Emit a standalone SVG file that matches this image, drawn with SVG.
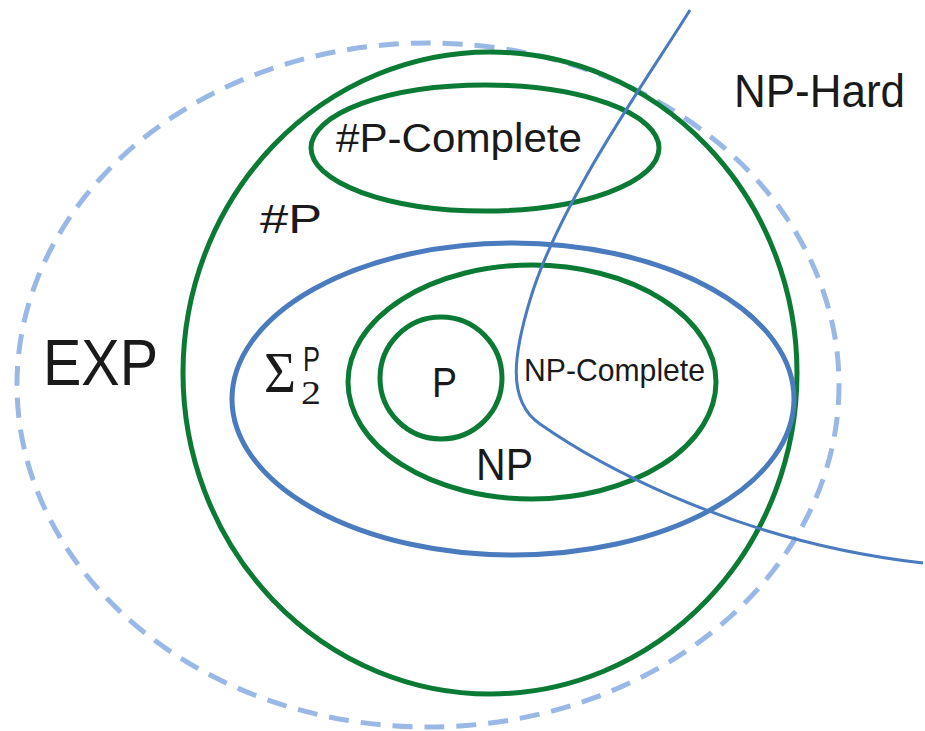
<svg xmlns="http://www.w3.org/2000/svg" width="925" height="731" viewBox="0 0 925 731">
<style>
.green{fill:none;stroke:#0b7a35;stroke-width:5}
.blue{fill:none;stroke:#4a7bbf;stroke-width:5}
.dash{fill:none;stroke:#9ab8e6;stroke-width:5;stroke-dasharray:20 12}
.curve{fill:none;stroke:#4a7bbf;stroke-width:3}
.lbl{font-family:"Liberation Sans","DejaVu Sans",sans-serif;fill:#1a1a1a}
.ser{font-family:"Liberation Serif","DejaVu Serif",serif;fill:#1a1a1a}
</style>
<rect width="925" height="731" fill="#ffffff"/>
<g id="exp">
<ellipse class="dash" cx="428" cy="385" rx="411" ry="342"/>
<text class="lbl" x="43" y="385" font-size="64" textLength="115" lengthAdjust="spacingAndGlyphs">EXP</text>
</g>
<g id="sharpP">
<ellipse class="green" cx="490" cy="373" rx="307" ry="321"/>
<text class="lbl" x="260" y="233" font-size="40" textLength="62" lengthAdjust="spacingAndGlyphs">#P</text>
</g>
<g id="sharpP-complete">
<ellipse class="green" cx="485" cy="148" rx="174" ry="63"/>
<text class="lbl" x="336" y="152" font-size="40" textLength="246" lengthAdjust="spacingAndGlyphs">#P-Complete</text>
</g>
<g id="sigma2p">
<ellipse class="blue" cx="513" cy="399" rx="281" ry="156"/>
<text class="ser" x="264" y="392" font-size="58" textLength="32" lengthAdjust="spacingAndGlyphs">Σ</text>
<text class="lbl" x="303" y="371" font-size="35" textLength="17" lengthAdjust="spacingAndGlyphs">P</text>
<text class="ser" x="301" y="404" font-size="33" textLength="20" lengthAdjust="spacingAndGlyphs">2</text>
</g>
<g id="np">
<ellipse class="green" cx="532" cy="382" rx="184" ry="117"/>
<text class="lbl" x="476" y="480" font-size="44" textLength="57" lengthAdjust="spacingAndGlyphs">NP</text>
</g>
<g id="p">
<ellipse class="green" cx="441" cy="378" rx="61" ry="61"/>
<text class="lbl" x="432" y="397" font-size="43" textLength="25" lengthAdjust="spacingAndGlyphs">P</text>
</g>
<g id="connectors">
<path id="np-hard-boundary" class="curve" d="M690,10 C650,75 560,200 530,300 C515,350 505,400 540,424 C580,452 720,540 923,563"/>
</g>
<g id="np-hard">
<text class="lbl" x="734" y="107" font-size="47" textLength="171" lengthAdjust="spacingAndGlyphs">NP-Hard</text>
</g>
<g id="np-complete">
<text class="lbl" x="524" y="381" font-size="32" textLength="181" lengthAdjust="spacingAndGlyphs">NP-Complete</text>
</g>
</svg>
